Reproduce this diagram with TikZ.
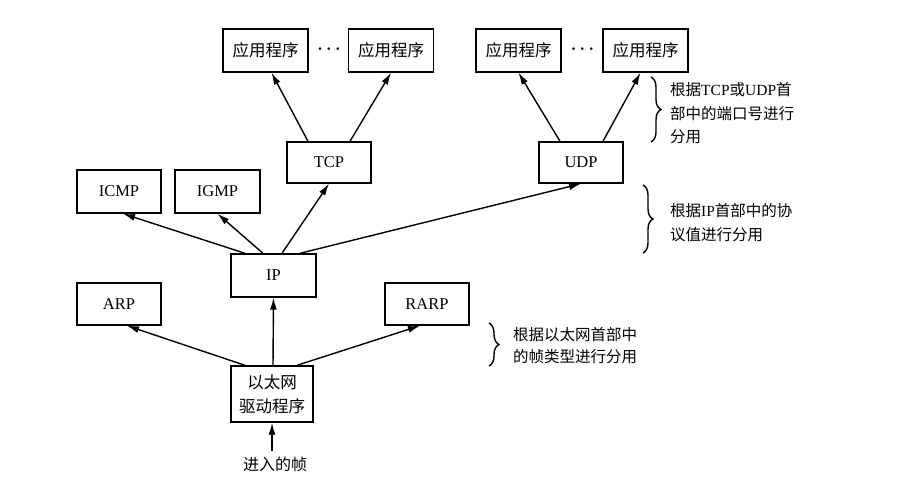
\documentclass[tikz,border=0pt]{standalone}
\usepackage{fontspec}
\setmainfont{Liberation Serif}
\newfontfamily\cjk{Noto Sans CJK SC}
\newcommand\zh[1]{{\cjk #1}}
\usetikzlibrary{arrows.meta,calc,decorations.pathreplacing}
\begin{document}
\begin{tikzpicture}[x=1pt,y=-1pt,
  box/.style={draw,line width=1.4pt,minimum width=85pt,minimum height=43pt,inner sep=0pt,font=\fontsize{16.5}{19}\selectfont},
  conn/.style={line width=1.4pt,-{Latex[length=12pt,width=7pt]}},
  brc/.style={decorate,decoration={brace,amplitude=10pt},line width=1.4pt},
  note/.style={anchor=west,align=left,inner sep=0pt,font=\fontsize{15.5}{23.5}\selectfont},
  dotsnode/.style={inner sep=0pt,font=\fontsize{16}{19}\selectfont\boldmath}]
\useasboundingbox[fill=white] (0,0) rectangle (905,499);

% application boxes
\node[box] (app1) at (265.5,50.5) {\zh{应用程序}};
\node[box] (app2) at (391,50.5) {\zh{应用程序}};
\node[box] (app3) at (518.5,50.5) {\zh{应用程序}};
\node[box] (app4) at (645.5,50.5) {\zh{应用程序}};
\node[dotsnode] (d1) at (329,49) {$\cdots$};
\node[dotsnode] (d2) at (582.5,49) {$\cdots$};

% transport
\node[box,minimum width=84pt,minimum height=41pt] (tcp) at (329,162.5) {TCP};
\node[box,minimum width=84pt,minimum height=41pt] (udp) at (581,162.5) {UDP};

% network
\node[box,minimum width=84pt] (icmp) at (119,191.5) {ICMP};
\node[box] (igmp) at (217.5,191.5) {IGMP};
\node[box] (ip) at (273.5,275.5) {IP};
\node[box,minimum width=84pt,minimum height=42pt] (arp) at (119,304) {ARP};
\node[box,minimum width=84pt,minimum height=42pt] (rarp) at (427,304) {RARP};

% driver
\node[box,minimum width=82pt,minimum height=56pt,align=center,font=\cjk\fontsize{16.5}{24}\selectfont] (drv) at (272,394) {以太网\\驱动程序};
\coordinate (in) at (272,451);
\node[inner sep=0pt,font=\cjk\fontsize{16}{19}\selectfont] (intext) at (275,464) {进入的帧};

% connectors
\draw[conn] ($(tcp.north)+(-21,0)$) -- ($(app1.south)+(6,0)$);
\draw[conn] ($(tcp.north)+(21,0)$) -- (app2.south);
\draw[conn] ($(udp.north)+(-21,0)$) -- (app3.south);
\draw[conn] ($(udp.north)+(22,0)$) -- ($(app4.south)+(-5,0)$);

\draw[conn] ($(ip.north)+(-28.5,0)$) -- ($(icmp.south)+(4,0)$);
\draw[conn] ($(ip.north)+(-10.5,0)$) -- (igmp.south);
\draw[conn] ($(ip.north)+(8.5,0)$) -- (tcp.south);
\draw[conn] ($(ip.north)+(26.5,0)$) -- (udp.south);

\draw[conn] ($(drv.north)+(-27,0)$) -- ($(arp.south)+(8,0)$);
\draw[conn] ($(drv.north)+(1,0)$) -- (ip.south);
\draw[conn] ($(drv.north)+(25,0)$) -- ($(rarp.south)+(-7,0)$);
\draw[conn] (in) -- (drv.south);

% braces and notes
\draw[brc] (651,77) -- (651,142);
\node[note] (n1) at (670,113.5) {\zh{根据}TCP\zh{或}UDP\zh{首}\\\zh{部中的端口号进行}\\\zh{分用}};
\draw[brc] (643,185) -- (643,253);
\node[note] (n2) at (670,222.5) {\zh{根据}IP\zh{首部中的协}\\\zh{议值进行分用}};
\draw[brc] (489,323) -- (489,366);
\node[note,font=\fontsize{15.5}{22}\selectfont] (n3) at (513,346) {\zh{根据以太网首部中}\\\zh{的帧类型进行分用}};
\end{tikzpicture}
\end{document}
